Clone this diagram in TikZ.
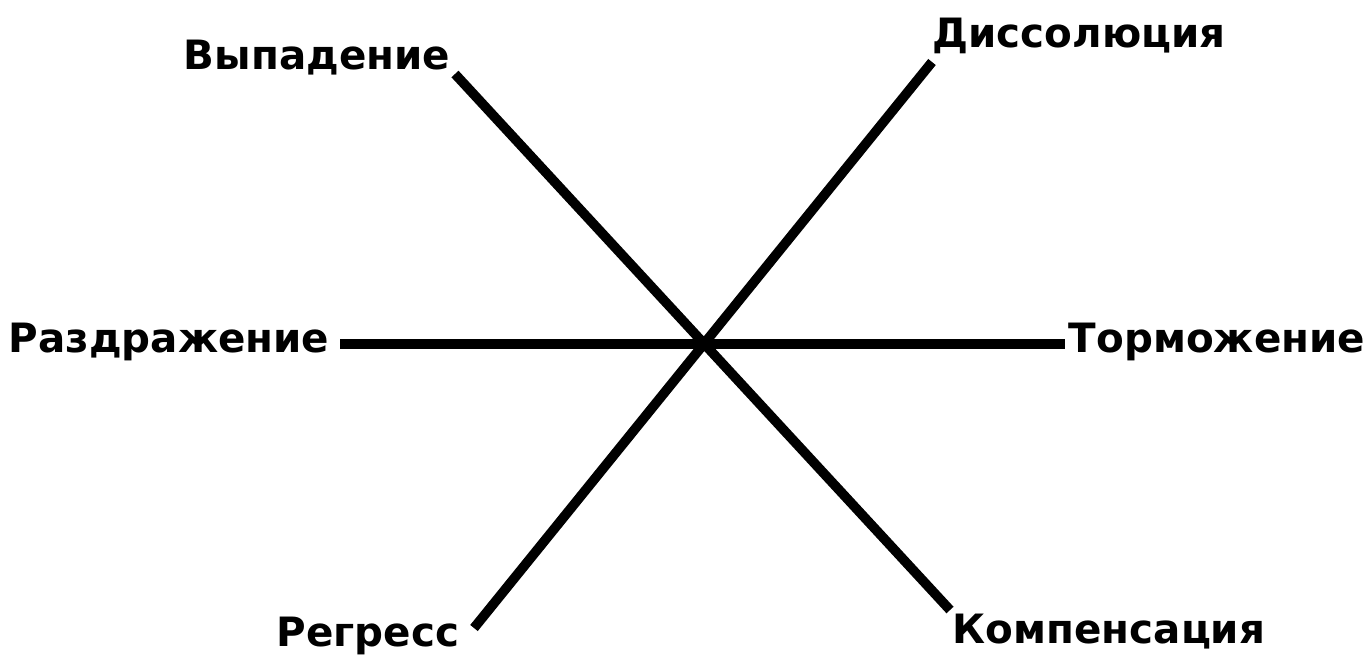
\documentclass[tikz,border=0pt]{standalone}
\usepackage{fontspec}
\setmainfont{DejaVu Sans}
\begin{document}
\begin{tikzpicture}[x=0.02cm,y=-0.02cm,
        axis/.style={black, line width=5.5pt},
        lbl/.style={inner sep=0pt, font=\bfseries\fontsize{23}{26}\selectfont}]
        \useasboundingbox (0,0) rectangle (1370,664);

        % The labels.
        \node[lbl] (vyp)  at (317,58)  {Выпадение};
        \node[lbl] (diss) at (1079,36) {Диссолюция};
        \node[lbl] (razd) at (169,342) {Раздражение};
        \node[lbl] (torm) at (1217,342) {Торможение};
        \node[lbl] (regr) at (368,636) {Регресс};
        \node[lbl] (komp) at (1109,632) {Компенсация};

        % The ends of the three axes.
        \coordinate (vypend)  at (455,74);
        \coordinate (kompend) at (950,610);
        \coordinate (dissend) at (932,62);
        \coordinate (regrend) at (474,628);
        \coordinate (razdend) at (340,344);
        \coordinate (tormend) at (1065,344);

        \draw[axis] (vypend) -- (kompend);
        \draw[axis] (dissend) -- (regrend);
        \draw[axis] (razdend) -- (tormend);
    \end{tikzpicture}
\end{document}
